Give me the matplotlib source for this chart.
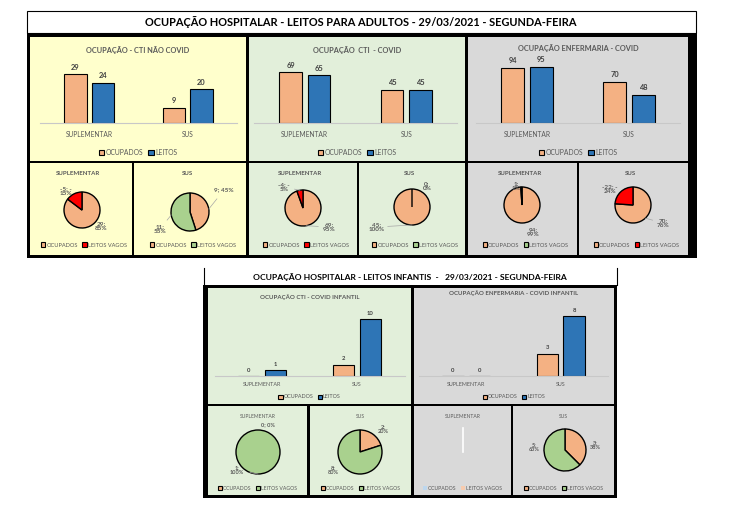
import numpy as np
import matplotlib
matplotlib.use('Agg')
import matplotlib.pyplot as plt
from matplotlib.patches import Rectangle, Patch

plt.rcParams['font.family'] = ['Lato', 'DejaVu Sans']

W, H = 743, 516

categorias = ['SUPLEMENTAR', 'SUS']

# adultos
cti_nao_covid_ocupados = [29, 9]
cti_nao_covid_leitos = [24, 20]
cti_covid_ocupados = [69, 45]
cti_covid_leitos = [65, 45]
enf_covid_ocupados = [94, 70]
enf_covid_leitos = [95, 48]

# infantil
cti_inf_ocupados = [0, 2]
cti_inf_leitos = [1, 10]
enf_inf_ocupados = [0, 3]
enf_inf_leitos = [0, 8]

titulo_adultos = 'OCUPAÇÃO HOSPITALAR - LEITOS PARA ADULTOS - 29/03/2021 - SEGUNDA-FEIRA'
titulo_infantil = 'OCUPAÇÃO HOSPITALAR - LEITOS INFANTIS  -   29/03/2021 - SEGUNDA-FEIRA'

# Cores
LARANJA = '#F4B183'
AZUL = '#2E75B6'
VERDE = '#A9D18E'
VERMELHO = '#FF0000'
AMARELO_BG = '#FFFFCC'
VERDE_BG = '#E2EFDA'
CINZA_BG = '#D9D9D9'
TXT = '#595959'
TXT_VAL = '#404040'

fig = plt.figure(figsize=(W / 100, H / 100), dpi=100)
bg = fig.add_axes([0, 0, 1, 1])
bg.set_xlim(0, W)
bg.set_ylim(H, 0)
bg.axis('off')


def caixa(x0, y0, x1, y1):
    # retangulo em pixels -> coordenadas da figura
    return [x0 / W, 1 - y1 / H, (x1 - x0) / W, (y1 - y0) / H]


def ret(x0, y0, x1, y1, fc, ec='none', lw=0):
    bg.add_patch(Rectangle((x0, y0), x1 - x0, y1 - y0, fc=fc, ec=ec, lw=lw))


def fpos(x, y):
    return (x / W, 1 - y / H)


def legenda(x, y, rotulos, cores, fs, bordas='black', lw=0.8):
    handles = [Patch(fc=c, ec=bordas, lw=lw) for c in cores]
    fig.legend(handles, rotulos, loc='center', bbox_to_anchor=fpos(x, y), ncol=2,
               frameon=False, fontsize=fs, handlelength=0.75, handleheight=0.75,
               handletextpad=0.2, columnspacing=0.8, borderpad=0,
               labelcolor=TXT)


def barras(box, ocup, leitos, ymax, fs_val, fs_cat, pad_cat):
    ax = fig.add_axes(caixa(*box))
    ax.patch.set_visible(False)
    x = np.arange(len(categorias))
    bw, off = 0.225, 0.14
    b1 = ax.bar(x - off, ocup, bw, color=LARANJA, ec='black', lw=0.8)
    b2 = ax.bar(x + off, leitos, bw, color=AZUL, ec='black', lw=0.8)
    ax.set_xlim(-0.5, 1.5)
    ax.set_ylim(0, ymax)
    for s in ['top', 'left', 'right']:
        ax.spines[s].set_visible(False)
    ax.spines['bottom'].set_color('#C8C8C8')
    ax.spines['bottom'].set_linewidth(0.8)
    ax.set_yticks([])
    ax.set_xticks(x, categorias)
    ax.tick_params(axis='x', length=0, pad=pad_cat, labelsize=fs_cat, labelcolor=TXT)
    for b in (b1, b2):
        ax.bar_label(b, padding=2.5, fontsize=fs_val, fontweight='bold', color=TXT_VAL)
    return ax


def pct(v, tot):
    return int(np.floor(100 * v / tot + 0.5)) if tot else 0


def pizza(cx, cy, r, ocup, leitos, offsets, fs, quebra=(True, True)):
    vagos = leitos - ocup
    ax = fig.add_axes(caixa(cx - 45, cy - 45, cx + 45, cy + 45))
    ax.patch.set_visible(False)
    vals = [abs(ocup), abs(vagos)]
    tot = sum(vals)
    cor_v = VERMELHO if vagos < 0 else VERDE
    if tot == 0:
        ax.plot([0, 0], [0, 1.1], color='white', lw=1.2)
    else:
        ax.pie(vals, colors=[LARANJA, cor_v], startangle=90, counterclock=False,
               wedgeprops=dict(ec='black', lw=1.0))
        ang0 = 90
        for v, real, (dx, dy), qb in zip(vals, [ocup, vagos], offsets, quebra):
            p = pct(v, tot)
            if real < 0:
                txt = f'{real}; -\n{p}%'
            else:
                txt = f'{real};\n{p}%' if qb else f'{real}; {p}%'
            ax.text(dx / r, -dy / r, txt, ha='center', va='center', fontsize=fs,
                    fontweight='bold', color=TXT, linespacing=1.15)
            meio = np.deg2rad(ang0 - 180 * v / tot)
            ang0 -= 360 * v / tot
            sx, sy = np.cos(meio), np.sin(meio)
            ex, ey = dx / r, -dy / r
            d = np.hypot(ex - sx, ey - sy)
            if d > 0.9:
                k = 0.6 / d
                ax.plot([sx, ex - (ex - sx) * k], [sy, ey - (ey - sy) * k],
                        color='#A6A6A6', lw=0.5)
    lim = 45 / r
    ax.set_xlim(-lim, lim)
    ax.set_ylim(-lim, lim)
    ax.axis('off')
    return vagos


# ---------------- ADULTOS ----------------
ret(27, 11, 696, 33, 'white', 'black', 0.8)
bg.text(361, 22, titulo_adultos, ha='center', va='center', fontsize=7.9,
        fontweight='bold', color='black')
ret(27, 33, 697, 258, 'black')

paineis = [
    (30, 246, 132, 134, AMARELO_BG),
    (249, 465, 357, 359, VERDE_BG),
    (468, 688, 577, 579, CINZA_BG),
]
for x0, x1, m0, m1, cor in paineis:
    ret(x0, 37, x1, 161, cor)
    ret(x0, 163, m0, 255, cor)
    ret(m1, 163, x1, 255, cor)

titulos_top = ['OCUPAÇÃO - CTI NÃO COVID', 'OCUPAÇÃO  CTI  - COVID', 'OCUPAÇÃO ENFERMARIA - COVID']
tit_y = [50, 50, 48]
dados_top = [
    (cti_nao_covid_ocupados, cti_nao_covid_leitos, 35, (40, 64, 237, 123)),
    (cti_covid_ocupados, cti_covid_leitos, 80, (254, 64, 457, 123)),
    (enf_covid_ocupados, enf_covid_leitos, 100, (476, 64, 680, 123)),
]
for (x0, x1, m0, m1, cor), tit, ty, (oc, le, ym, box) in zip(paineis, titulos_top, tit_y, dados_top):
    bg.text((x0 + x1) / 2, ty, tit, ha='center', va='center', fontsize=5.3,
            fontweight='bold', color=TXT)
    barras(box, oc, le, ym, 5.4, 4.8, 6)
    legenda((x0 + x1) / 2, 152, ['OCUPADOS', 'LEITOS'], [LARANJA, AZUL], 4.9)

# pizzas adultos
pizzas_top = [
    (82, 210, 18, cti_nao_covid_ocupados[0], cti_nao_covid_leitos[0], [(19, 16), (-16, -19)], (True, True)),
    (190, 212, 19, cti_nao_covid_ocupados[1], cti_nao_covid_leitos[1], [(34, -22), (-30, 17)], (False, True)),
    (303, 208, 18, cti_covid_ocupados[0], cti_covid_leitos[0], [(26, 19), (-19, -21)], (True, True)),
    (412, 207, 18, cti_covid_ocupados[1], cti_covid_leitos[1], [(-35, 20), (15, -21)], (True, True)),
    (522, 205, 18, enf_covid_ocupados[0], enf_covid_leitos[0], [(11, 27), (-6, -19)], (True, True)),
    (633, 205, 18, enf_covid_ocupados[1], enf_covid_leitos[1], [(30, 18), (-23, -16)], (True, True)),
]
centros_top = [(30, 132), (134, 246), (249, 357), (359, 465), (468, 577), (579, 688)]
for (cx, cy, r, oc, le, offs, qb), (p0, p1), nome in zip(pizzas_top, centros_top, categorias * 3):
    vag = pizza(cx, cy, r, oc, le, offs, 4.6, qb)
    bg.text((p0 + p1) / 2 - 3, 173.5, nome, ha='center', va='center', fontsize=4.4,
            fontweight='bold', color=TXT)
    legenda((p0 + p1) / 2 + 3, 245, ['OCUPADOS', 'LEITOS VAGOS'],
            [LARANJA, VERMELHO if vag < 0 else VERDE], 4.1)

# ---------------- INFANTIL ----------------
ret(203, 268, 617, 285, 'white')
bg.plot([203.5, 203.5], [268, 285], color='black', lw=0.8)
bg.plot([616.5, 616.5], [268, 285], color='black', lw=0.8)
bg.text(410, 277, titulo_infantil, ha='center', va='center', fontsize=6.1,
        fontweight='bold', color='black')
ret(203, 285, 617, 498, 'black')

paineis_inf = [
    (208, 411, 307, 310, VERDE_BG),
    (414, 614, 511, 513, CINZA_BG),
]
for x0, x1, m0, m1, cor in paineis_inf:
    ret(x0, 288, x1, 404, cor)
    ret(x0, 406, m0, 495, cor)
    ret(m1, 406, x1, 495, cor)

titulos_inf = ['OCUPAÇÃO CTI - COVID INFANTIL', 'OCUPAÇÃO ENFERMARIA - COVID INFANTIL']
tit_y_inf = [297, 293]
dados_inf = [
    (cti_inf_ocupados, cti_inf_leitos, 12, (214.5, 307.6, 404.5, 376)),
    (enf_inf_ocupados, enf_inf_leitos, 9, (419, 308.5, 608, 376)),
]
for (x0, x1, m0, m1, cor), tit, ty, (oc, le, ym, box) in zip(paineis_inf, titulos_inf, tit_y_inf, dados_inf):
    bg.text((x0 + x1) / 2, ty, tit, ha='center', va='center', fontsize=4.4,
            fontweight='bold', color=TXT)
    barras(box, oc, le, ym, 4.2, 3.9, 4)
    legenda((x0 + x1) / 2, 397, ['OCUPADOS', 'LEITOS'], [LARANJA, AZUL], 3.9)

pizzas_inf = [
    (258, 452, 22, cti_inf_ocupados[0], cti_inf_leitos[0], [(10, -27), (-21, 18)], (False, True)),
    (360, 452, 22, cti_inf_ocupados[1], cti_inf_leitos[1], [(23, -23), (-27, 18)], (True, True)),
    (463, 452, 22, enf_inf_ocupados[0], enf_inf_leitos[0], [(0, 0), (0, 0)], (True, True)),
    (565, 450, 21, enf_inf_ocupados[1], enf_inf_leitos[1], [(30, -5), (-31, -3)], (True, True)),
]
centros_inf = [(208, 307), (310, 411), (414, 511), (513, 614)]
for (cx, cy, r, oc, le, offs, qb), (p0, p1), nome in zip(pizzas_inf, centros_inf, categorias * 2):
    vag = pizza(cx, cy, r, oc, le, offs, 4.0, qb)
    bg.text((p0 + p1) / 2, 416, nome, ha='center', va='center', fontsize=3.6,
            color=TXT)
    if oc == 0 and le == 0:
        legenda((p0 + p1) / 2, 488, ['OCUPADOS', 'LEITOS VAGOS'],
                ['#BDD7EE', '#F8CBAD'], 3.7, bordas='none', lw=0)
    else:
        legenda((p0 + p1) / 2, 488, ['OCUPADOS', 'LEITOS VAGOS'],
                [LARANJA, VERMELHO if vag < 0 else VERDE], 3.7)

fig.savefig('out.png', dpi=100, facecolor='white')
